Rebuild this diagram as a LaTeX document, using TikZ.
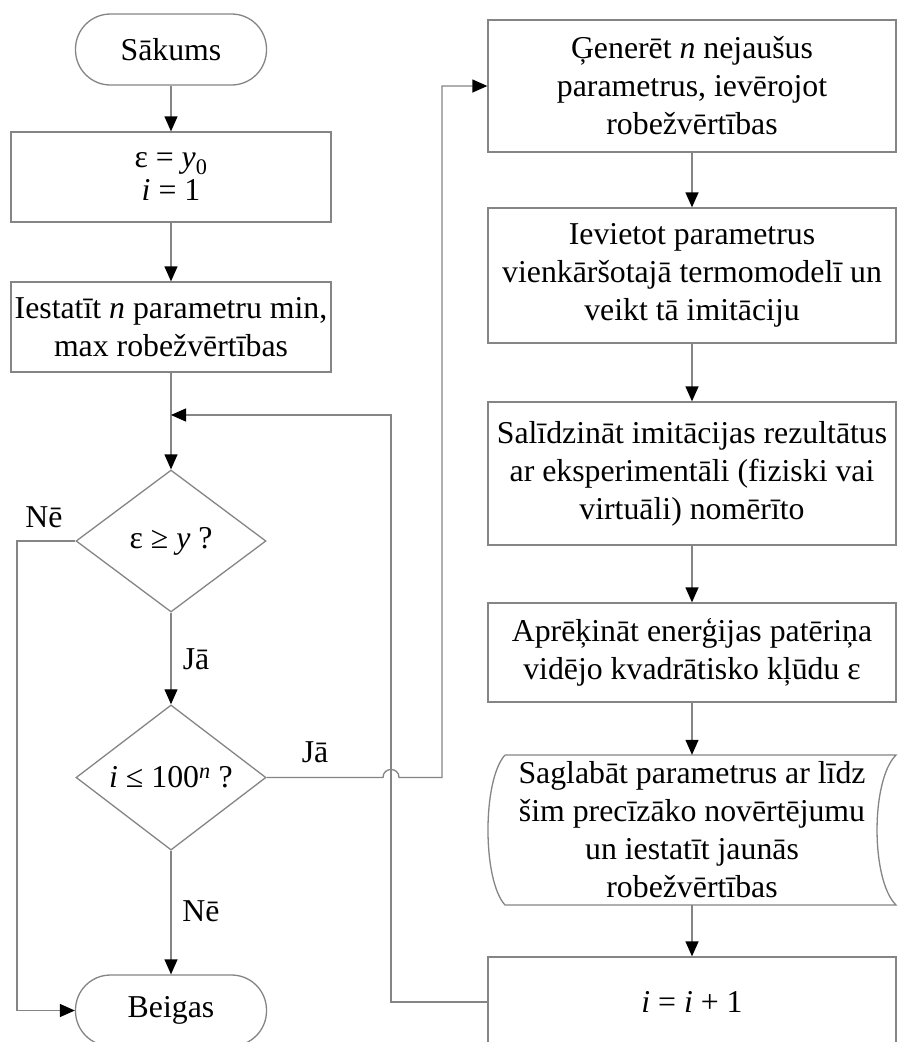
\documentclass[tikz,border=0pt]{standalone}
\usepackage{fontspec}
\setmainfont{Liberation Serif}
\usetikzlibrary{arrows.meta,shapes.geometric}
\definecolor{linegray}{HTML}{858585}
\begin{document}
\begin{tikzpicture}[x=1pt,y=-1pt,
  every node/.style={font=\fontsize{31.8}{38}\selectfont, text=black},
  line/.style={draw=linegray, line width=1.3pt},
  arr/.style={line, -{Triangle[length=15pt,width=13pt,color=black]}},
  box/.style={rectangle, draw=linegray, line width=1.3pt, fill=white, align=center, inner sep=0pt},
  term/.style={rectangle, rounded corners=35pt, draw=linegray, line width=1.3pt, fill=white, minimum width=191pt, minimum height=71pt, inner sep=0pt},
  dec/.style={diamond, draw=linegray, line width=1.3pt, fill=white, inner sep=0pt, minimum width=190pt, minimum height=142pt},
  lbl/.style={inner sep=0pt}]
\useasboundingbox (0,0) rectangle (903,1042);
\clip (0,0) rectangle (903,1042);
\fill[white] (0,0) rectangle (903,1042);

% left column
\node[term] (start) at (171,49.5) {Sākums};
\node[box, minimum width=320pt, minimum height=90pt] (b1) at (171,177) {ε = \textit{y}\textsubscript{0}\\[-5pt] \textit{i} = 1};
\node[box, minimum width=320pt, minimum height=90pt] (b2) at (171,327) {Iestatīt \textit{n} parametru min,\\ max robežvērtības};
\node[dec] (d1) at (171,541) {ε ≥ \textit{y} ?};
\node[dec, minimum height=141pt] (d2) at (171,777.5) {\textit{i} ≤ 100\textsuperscript{\textit{n}} ?};
\node[term] (end) at (171,1010.5) {Beigas};

% right column
\node[box, minimum width=408pt, minimum height=132pt] (r1) at (692,86) {Ģenerēt \textit{n} nejaušus\\ parametrus, ievērojot\\ robežvērtības};
\node[box, minimum width=408pt, minimum height=135pt] (r2) at (692,275.5) {Ievietot parametrus\\ vienkāršotajā termomodelī un\\ veikt tā imitāciju};
\node[box, minimum width=408pt, minimum height=143pt] (r3) at (692,473.5) {Salīdzināt imitācijas rezultātus\\ ar eksperimentāli (fiziski vai\\ virtuāli) nomērīto};
\node[box, minimum width=408pt, minimum height=99pt] (r4) at (692,652.5) {Aprēķināt enerģijas patēriņa\\ vidējo kvadrātisko kļūdu ε};
\node[align=center, inner sep=0pt, minimum width=408pt, minimum height=150pt] (save) at (692,830) {Saglabāt parametrus ar līdz\\ šim precīzāko novērtējumu\\ un iestatīt jaunās\\ robežvērtības};
\node[box, minimum width=408pt, minimum height=90pt] (r6) at (692,1002) {\textit{i} = \textit{i} + 1};

% stored data outline
\draw[line] (505,755) -- (896,755)
  .. controls (870.7,780) and (870.7,880) .. (896,905)
  -- (505,905)
  .. controls (482.3,880) and (482.3,780) .. (505,755);

% coordinates
\coordinate (m1) at (171,415);
\coordinate (nA) at (17,541);
\coordinate (nB) at (17,1010.5);
\coordinate (j1) at (383,777.5);
\coordinate (j2) at (399,777.5);
\coordinate (c1) at (442,777.5);
\coordinate (c2) at (442,86);
\coordinate (l1) at (391,1002);
\coordinate (l2) at (391,415);

% connectors
\draw[arr] (start) -- (b1);
\draw[arr] (b1) -- (b2);
\draw[arr] (b2) -- (d1);
\draw[arr] (d1) -- (d2);
\draw[arr] (d2) -- (end);
\draw[arr] (d1.west) -- (nA) -- (nB) -- (end.west);
\draw[arr] (d2.east) -- (j1) .. controls (383,766.8) and (399,766.8) .. (j2) -- (c1) -- (c2) -- (r1.west);
\draw[arr] (r6.west) -- (l1) -- (l2) -- (m1);
\draw[arr] (r1) -- (r2);
\draw[arr] (r2) -- (r3);
\draw[arr] (r3) -- (r4);
\draw[arr] (r4) -- (save.north);
\draw[arr] (save.south) -- (r6);

% labels
\node[lbl] at (44,517) {Nē};
\node[lbl] at (196,659) {Jā};
\node[lbl] at (315,752) {Jā};
\node[lbl] at (201,911) {Nē};
\end{tikzpicture}
\end{document}
